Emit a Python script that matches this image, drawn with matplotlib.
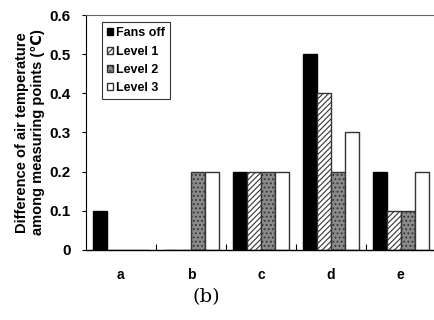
import matplotlib
matplotlib.use("Agg")
import matplotlib.pyplot as plt
import numpy as np

categories = ["a", "b", "c", "d", "e"]
series_names = ["Fans off", "Level 1", "Level 2", "Level 3"]
fans_off = [0.1, 0.0, 0.2, 0.5, 0.2]
level1 = [0.0, 0.0, 0.2, 0.4, 0.1]
level2 = [0.0, 0.2, 0.2, 0.2, 0.1]
level3 = [0.0, 0.2, 0.2, 0.3, 0.2]
y_ticks = [0, 0.1, 0.2, 0.3, 0.4, 0.5, 0.6]
y_tick_labels = ["0", "0.1", "0.2", "0.3", "0.4", "0.5", "0.6"]

plt.rcParams['font.family'] = ['Liberation Sans', 'DejaVu Sans']
plt.rcParams['hatch.linewidth'] = 0.8

fig = plt.figure(figsize=(4.34, 3.2), dpi=100)
ax = fig.add_axes([0.198, 0.219, 0.806, 0.734])

x = np.arange(len(categories)) + 0.5
w = 0.2
styles = [
    dict(facecolor="black", edgecolor="black", hatch=None),
    dict(facecolor="white", edgecolor="#333333", hatch="//////"),
    dict(facecolor="#8a8a8a", edgecolor="#333333", hatch="...."),
    dict(facecolor="white", edgecolor="#333333", hatch=None),
]
data = [fans_off, level1, level2, level3]
offsets = [-0.3, -0.1, 0.1, 0.3]
for vals, off, st, name in zip(data, offsets, styles, series_names):
    ax.bar(x + off, vals, width=w, label=name, linewidth=1.0, **st)

ax.set_xlim(0, 5)
ax.set_ylim(0, 0.6)
ax.set_yticks(y_ticks)
ax.set_yticklabels(y_tick_labels, fontsize=11, fontweight="bold")
ax.tick_params(axis="y", direction="out", length=3, width=0.8, pad=8)

ax.set_xticks(x)
ax.set_xticklabels(categories, fontsize=10, fontweight="bold")
ax.tick_params(axis="x", length=0, pad=13)
ax.set_xticks(np.arange(1, 5), minor=True)
ax.tick_params(axis="x", which="minor", direction="in", length=4, width=0.8)

ax.spines["right"].set_visible(False)
ax.spines["top"].set_color("#666666")
ax.spines["top"].set_linestyle((0, (4, 1)))
ax.spines["top"].set_linewidth(0.8)
ax.spines["left"].set_linewidth(0.8)
ax.spines["bottom"].set_linewidth(1.0)

ax.set_ylabel("Difference of air temperature\namong measuring points (\u2103)",
              fontsize=10.5, fontweight="bold", linespacing=1.15)
ax.yaxis.set_label_coords(-0.118, 0.5)

leg = ax.legend(loc="upper left", bbox_to_anchor=(0.035, 0.985), frameon=True,
                fancybox=False, edgecolor="black",
                prop=dict(weight="bold", size=9), handlelength=0.5,
                handleheight=0.5, handletextpad=0.2, labelspacing=0.5,
                borderpad=0.4, borderaxespad=0.3)
leg.get_frame().set_linewidth(0.8)

fig.text(0.475, 0.072, "(b)", fontsize=14, family="DejaVu Serif",
         ha="center", va="center")

fig.savefig("out.png", dpi=100)
